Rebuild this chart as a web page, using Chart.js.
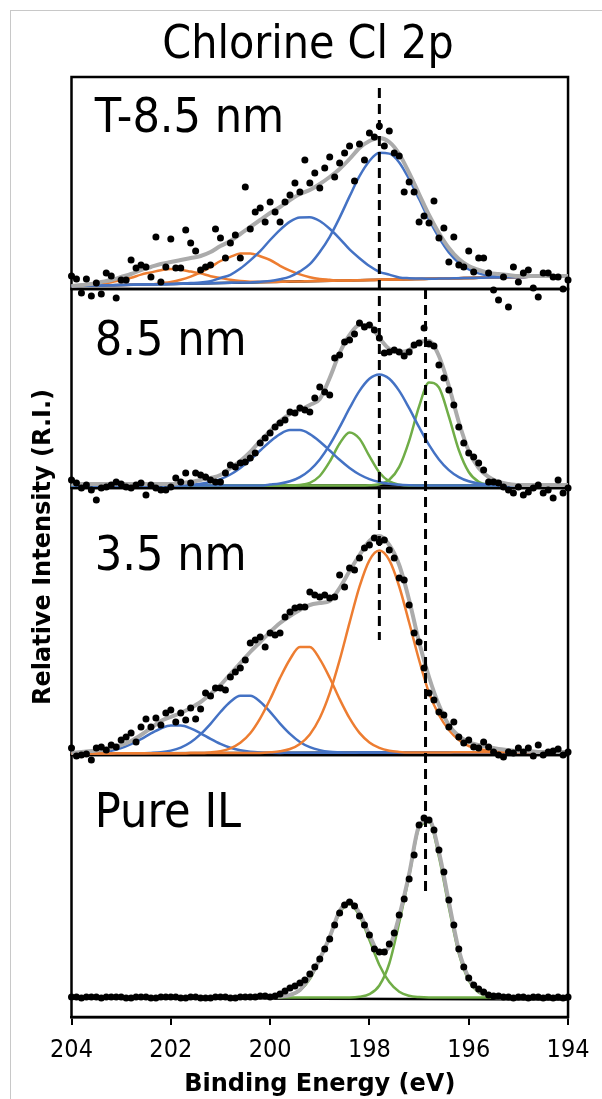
<!DOCTYPE html>
<html><head><meta charset="utf-8">
<script src="https://cdn.jsdelivr.net/npm/chart.js@4/dist/chart.umd.min.js"></script>
<style>
html,body{margin:0;padding:0;background:#fff;}
#wrap{position:relative;width:602px;height:1099px;overflow:hidden;}
#frame{position:absolute;left:10px;top:10px;width:700px;height:1200px;border-left:1px solid #c8c8c8;border-top:1px solid #c8c8c8;}
canvas{position:absolute;left:0;top:0;}
</style></head><body>
<div id="wrap"><div id="frame"></div><canvas id="c" width="602" height="1099"></canvas></div>
<script>
// ---- x values (binding energy, eV) ----
const energyData = [204.0,203.9,203.8,203.7,203.6,203.5,203.4,203.3,203.2,203.1,
203.0,202.9,202.8,202.7,202.6,202.5,202.4,202.3,202.2,202.1,
202.0,201.9,201.8,201.7,201.6,201.5,201.4,201.3,201.2,201.1,
201.0,200.9,200.8,200.7,200.6,200.5,200.4,200.3,200.2,200.1,
200.0,199.9,199.8,199.7,199.6,199.5,199.4,199.3,199.2,199.1,
199.0,198.9,198.8,198.7,198.6,198.5,198.4,198.3,198.2,198.1,
198.0,197.9,197.8,197.7,197.6,197.5,197.4,197.3,197.2,197.1,
197.0,196.9,196.8,196.7,196.6,196.5,196.4,196.3,196.2,196.1,
196.0,195.9,195.8,195.7,195.6,195.5,195.4,195.3,195.2,195.1,
195.0,194.9,194.8,194.7,194.6,194.5,194.4,194.3,194.2,194.1,194.0];
const energyFit = [204.0,203.8,203.6,203.4,203.2,203.0,202.8,202.6,202.4,202.2,
202.0,201.8,201.6,201.4,201.2,201.0,200.8,200.6,200.4,200.2,
200.0,199.8,199.6,199.4,199.2,199.0,198.8,198.6,198.4,198.2,
198.0,197.8,197.6,197.4,197.2,197.0,196.8,196.6,196.4,196.2,
196.0,195.8,195.6,195.4,195.2,195.0,194.8,194.6,194.4,194.2,194.0];
const energyBg = [204, 194];
const xTicks = [204, 202, 200, 198, 196, 194];

// ---- Panel 1: T-8.5 nm ----
const t85Dots = [13,10,-4,10,-7,6,-5,16,13,-9, 9,9,29,21,24,22,12,52,7,22, 50,21,21,59,46,38,19,22,24,60,
51,31,46,54,31,102,60,77,81,67, 87,77,67,87,94,106,97,129,106,116, 101,121,132,112,126,136,143,108,145,129,
156,152,163,143,158,136,133,97,107,97, 67,73,66,88,51,61,27,52,24,22, 38,17,31,31,16,-1,-11,12,-18,22,
7,16,19,1,-8,16,16,12,12,0, 9];
const t85Envelope = [3,4,5,7,9,12,15,19,22,25, 27,29,31,33,37,43,48,55,62,69, 76,82,89,95,99,105,112,120,130,141,
148,151,147,135,116,95,74,56,41,30, 23,19,16,15,14,13,13,13,13,13, 13];
const t85BlueMain = [3.0,3.2,3.4,3.6,3.8,4.0,4.2,4.4,4.6,4.8,5.0,5.2,5.4,5.6,5.8,6.0,6.2,6.4,6.6,
7.3,8,9.7,12.4,17.6,24.8,37,52.2,71.4,92.6,112.8,128,136.2,135.4,126.6,109.8,90,69.2,51.4,36.6,26.3,19.6,15.6,13.5,12.6,12.2,12,12.2,12.4,12.6,12.8,13];
const t85BlueSecond = [3.0,3.2,3.4,3.6,3.8,4.0,4.2,4.4,4.6,4.8,5.0,5.2,
5.9,6.6,7.8,11,14.2,20.4,28.6,37.8,49,59.2,67.4,71.6,71.8,68,60.2,50.4,39.6,30.8,23,17.2,14.4,11.6,10.8,10.5,
10.2,10.4,10.6,10.8,11.0,11.2,11.4,11.6,11.8,12.0,12.2,12.4,12.6,12.8,13.0];
const t85OrangeA = [3.0,3.2,3.4,3.6,3.8,4.0,4.2,4.4,4.6,
5.8,7,9.2,12.4,16.6,21.8,28,32.2,35.4,35.6,32.8,29,23.2,18.4,14.6,11.8,10,9.2,
8.4,8.6,8.8,9.0,9.2,9.4,9.6,9.8,10.0,10.2,10.4,10.6,10.8,11.0,11.2,11.4,11.6,11.8,12.0,12.2,12.4,12.6,12.8,13.0];
const t85OrangeB = [3,3.5,4.1,5.1,6.8,9,11.2,14.4,16.6,18.8, 20,19.2,17.4,15.6,12.8,11,9.2,7.9,7.3,7.1,
7.0,7.2,7.4,7.6,7.8,8.0,8.2,8.4,8.6,8.8,9.0,9.2,9.4,9.6,9.8,10.0,10.2,10.4,10.6,10.8,11.0,11.2,11.4,11.6,11.8,12.0,12.2,12.4,12.6,12.8,13.0];
const t85Background = [3, 13];

// ---- Panel 2: 8.5 nm ----
const n85Dots = [8,5,0,3,-2,-12,0,1,3,6, 4,1,0,3,5,-7,3,0,-2,-2, 1,10,6,15,5,15,13,11,8,6,
6,15,23,21,25,26,30,35,45,50, 55,61,65,68,76,75,80,78,76,90, 101,96,93,130,133,146,148,154,165,161,
163,158,150,135,136,138,136,132,136,143, 145,160,144,142,123,110,98,83,61,45, 35,31,25,18,6,6,5,1,-2,-5,
1,-7,-4,0,3,-5,-2,-10,8,-5, 0];
const n85Envelope = [4,4,4,4,4,4,4,4,4,4, 4,5,6,8,10,13,20,27,36,47, 57,67,74,78,83,89,110,135,153,163,
163,150,139,136,138,146,147,132,102,66, 37,20,11,6,4,3,3,3,3,3, 3];
const n85BlueA = [2.5,2.5,2.5,2.5,2.5,2.5,2.5,2.5,2.5,2.5,2.5,
2.8,3.3,4.2,6,8.9,13.5,20,28.2,37.5,46.5,53.9,57.9,57.9,53.9,46.5,37.5,28.2,20,13.5,8.9,6,4.2,3.3,2.8,
2.5,2.5,2.5,2.5,2.5,2.5,2.5,2.5,2.5,2.5,2.5,2.5,2.5,2.5,2.5,2.5];
const n85BlueB = [2.5,2.5,2.5,2.5,2.5,2.5,2.5,2.5,2.5,2.5,2.5,2.5,2.5,2.5,2.5,2.5,2.5,2.5,2.5,2.5,
3.4,4.5,6.7,10.9,17.9,28.6,43.1,60.8,79.8,97.1,109.2,113.5,109.2,97.1,79.8,60.8,43.1,28.6,17.9,10.9,6.7,4.5,3.4,
2.5,2.5,2.5,2.5,2.5,2.5,2.5,2.5];
const n85GreenA = [2.5,2.5,2.5,2.5,2.5,2.5,2.5,2.5,2.5,2.5,2.5,2.5,2.5,2.5,2.5,2.5,2.5,2.5,2.5,2.5,2.5,2.5,2.5,
3,5.2,12,26.3,44.5,55.5,49.2,31.8,15.5,6.6,3.4,
2.5,2.5,2.5,2.5,2.5,2.5,2.5,2.5,2.5,2.5,2.5,2.5,2.5,2.5,2.5,2.5,2.5];
const n85GreenB = [2.5,2.5,2.5,2.5,2.5,2.5,2.5,2.5,2.5,2.5,2.5,2.5,2.5,2.5,2.5,2.5,2.5,2.5,2.5,2.5,2.5,2.5,2.5,2.5,2.5,2.5,2.5,2.5,2.5,2.5,
2.7,3.8,8.2,21.1,47.2,81.5,105.5,100.5,71.5,38,16,6.2,3.2,
2.5,2.5,2.5,2.5,2.5,2.5,2.5,2.5];
const n85Background = [2.5, 2.5];

// ---- Panel 3: 3.5 nm ----
const n35Dots = [7,-1,0,1,-5,7,8,5,10,8, 15,18,22,13,28,36,28,37,30,42, 45,33,42,35,47,36,46,62,59,67,
67,65,78,83,87,95,112,115,118,108, 122,120,122,138,143,147,148,148,163,160, 158,160,157,158,180,168,187,185,197,207,
210,217,213,215,205,197,177,175,150,122, 113,87,62,55,43,40,28,33,18,12, 15,8,7,13,8,3,0,-2,3,2,
7,3,7,-1,10,0,3,4,6,0, 3];
const n35Envelope = [2,3,4,5,7,10,14,20,27,34, 38,42,47,53,61,70,81,92,103,113, 123,132,139,145,150,152,154,167,184,200,
214,219,210,190,155,113,78,50,30,19, 13,10,8,6,5,4,4,3,3,3, 3];
const n35OrangeMain = [1.5,1.5,1.6,1.6,1.6,1.7,1.7,1.7,1.7,1.8,1.8,1.8,1.9,1.9,1.9,2.0,2.0,2.0,2.0,2.1,
2.7,3.7,6,11.1,20.6,37,61.9,94.8,132.3,168.4,194.7,204.4,194.8,168.5,132.5,95,62.1,40,25,15,9,6,4.5,3.8,3.4,
2.9,2.9,2.9,3.0,3.0,3.0];
const n35OrangeSecond = [1.5,1.5,1.6,1.6,1.6,1.7,1.7,1.7,1.7,1.8,1.8,1.8,1.9,1.9,
2.6,3.9,6.7,12.2,21.7,36.6,55.7,77.1,95.8,108,108,95.9,77.3,55.9,36.8,22.1,12.6,7.1,4.3,3.1,
2.5,2.6,2.6,2.6,2.6,2.7,2.7,2.7,2.8,2.8,2.8,2.8,2.9,2.9,2.9,3.0,3.0];
const n35BlueA = [1.5,1.5,1.6,1.6,1.6,1.7,1.7,1.7,
2.1,2.8,4.4,7.4,12.7,20.8,31.2,43,53.2,59.2,59.2,53.3,43.1,31.4,21.1,13,7.8,4.9,3.3,2.7,
2.3,2.4,2.4,2.4,2.5,2.5,2.5,2.6,2.6,2.6,2.6,2.7,2.7,2.7,2.8,2.8,2.8,2.8,2.9,2.9,2.9,3.0,3.0];
const n35BlueB = [1.5,1.7,2.1,2.8,4.3,6.9,10.9,15.9,21.6,26.5, 29.4,29.4,26.6,21.7,16.1,11.1,7.2,4.8,3.3,2.6, 2.3,
2.1,2.2,2.2,2.2,2.3,2.3,2.3,2.3,2.4,2.4,2.4,2.5,2.5,2.5,2.6,2.6,2.6,2.6,2.7,2.7,2.7,2.8,2.8,2.8,2.8,2.9,2.9,2.9,3.0,3.0];
const n35Background = [1.5, 3];

// ---- Panel 4: Pure IL ----
const pureDots = [20,20,19,20,20,20,19,20,20,20, 20,19,19,20,20,20,19,19,20,20, 20,20,19,19,20,20,19,19,19,20,
20,20,19,19,20,20,20,20,21,21, 20,21,23,26,29,31,34,37,43,50, 58,68,78,92,104,112,115,111,101,92,
82,68,65,65,73,84,102,118,138,162, 192,199,197,187,167,145,117,92,68,50, 39,32,28,25,22,21,21,20,20,19,
20,20,19,20,20,19,20,19,20,19, 20];
const pureEnvelope = [19.5,19.5,19.5,19.5,19.5,19.5,19.5,19.5,19.5,19.5,19.5,19.5,19.5,19.5,19.5,19.5,19.5,19.5,19.5,19.5,19.5,
20.5,22,27,40,58,80,106,115,104,82,65,70,101,143,191,197,165,115,67,39,26,21.5,
19.5,19.5,19.5,19.5,19.5,19.5,19.5,19.5];
const pureGreenSmall = [19.5,19.5,19.5,19.5,19.5,19.5,19.5,19.5,19.5,19.5,19.5,19.5,19.5,19.5,19.5,19.5,19.5,19.5,19.5,19.5,19.5,
20.1,21.7,26.5,37.9,57.8,80,104,113,101,77,52,34.9,25.2,21.2,19.9,
19.5,19.5,19.5,19.5,19.5,19.5,19.5,19.5,19.5,19.5,19.5,19.5,19.5,19.5,19.5];
const pureGreenMain = [19.5,19.5,19.5,19.5,19.5,19.5,19.5,19.5,19.5,19.5,19.5,19.5,19.5,19.5,19.5,19.5,19.5,19.5,19.5,19.5,19.5,19.5,19.5,19.5,19.5,19.5,19.5,19.5,19.5,
20.2,22.8,31.5,53.5,94.5,141,189,195,160,109.5,63.5,36.5,24.5,20.7,
19.5,19.5,19.5,19.5,19.5,19.5,19.5,19.5];
const pureBackground = [19, 17.5];

// ---- panel ranges, labels, reference lines ----
const panelAxes = ['p1', 'p2', 'p3', 'p4'];
const panelLabels = ['T-8.5 nm', '8.5 nm', '3.5 nm', 'Pure IL'];
const panelRanges = [212, 199, 267, 262];
const labelEnergy = 203.53;
const labelLevels = [157, 133, 185, 190];
const markerEnergy = [197.8, 196.87];
const markerStartAxis = ['p1', 'p2'];
const markerStartLevel = [201, 199];
const markerEndAxis = ['p3', 'p4'];
const markerEndLevel = [115, 120];

const BLUE = '#4472C4', ORANGE = '#ED7D31', GREEN = '#70AD47', GRAY = '#ABABAB';
const REG = "'DejaVu Sans Condensed', 'Noto Sans', sans-serif";
const BOLD = "'DejaVu Sans', sans-serif";

const panels = [
  {axis: 'p1', dots: t85Dots, env: t85Envelope, bg: t85Background,
   comps: [[t85BlueMain, BLUE], [t85BlueSecond, BLUE], [t85OrangeA, ORANGE], [t85OrangeB, ORANGE]]},
  {axis: 'p2', dots: n85Dots, env: n85Envelope, bg: n85Background,
   comps: [[n85BlueA, BLUE], [n85BlueB, BLUE], [n85GreenA, GREEN], [n85GreenB, GREEN]]},
  {axis: 'p3', dots: n35Dots, env: n35Envelope, bg: n35Background,
   comps: [[n35OrangeMain, ORANGE], [n35OrangeSecond, ORANGE], [n35BlueA, BLUE], [n35BlueB, BLUE]]},
  {axis: 'p4', dots: pureDots, env: pureEnvelope, bg: pureBackground,
   comps: [[pureGreenSmall, GREEN], [pureGreenMain, GREEN]]}
];

function xy(xs, ys) { return ys.map((y, i) => ({x: xs[i], y: y})); }

const datasets = [];
panels.forEach((p) => {
  datasets.push({data: xy(energyData, p.dots), yAxisID: p.axis, showLine: false,
    pointRadius: 3.5, pointBackgroundColor: '#000', pointBorderWidth: 0, order: 0, clip: false});
  datasets.push({data: xy(energyFit, p.env), yAxisID: p.axis, showLine: true, borderColor: GRAY,
    borderWidth: 4, pointRadius: 0, cubicInterpolationMode: 'monotone', order: 1, clip: false});
  p.comps.forEach((c) => {
    datasets.push({data: xy(energyFit, c[0]), yAxisID: p.axis, showLine: true, borderColor: c[1],
      borderWidth: 2.5, pointRadius: 0, cubicInterpolationMode: 'monotone', order: 2, clip: false});
  });
  datasets.push({data: xy(energyBg, p.bg), yAxisID: p.axis, showLine: true, borderColor: '#000',
    borderWidth: 2.5, pointRadius: 0, order: 3, clip: false});
});

const scales = {
  x: {type: 'linear', position: 'bottom', min: 194, max: 204, reverse: true,
    afterBuildTicks: (s) => { s.ticks = xTicks.map(v => ({value: v})); },
    ticks: {color: '#000', font: {family: REG, size: 25, lineHeight: 1}, padding: 12.5, maxRotation: 0, autoSkip: false},
    grid: {display: true, drawOnChartArea: false, drawTicks: true, tickLength: 8, color: '#000', lineWidth: 2},
    border: {display: true, color: '#000', width: 2.5},
    title: {display: true, text: 'Binding Energy (eV)', color: '#000',
      font: {family: BOLD, size: 24, weight: 'bold', lineHeight: 1}, padding: {top: -2, bottom: 0}}},
  yRI: {type: 'linear', position: 'left', display: true,
    ticks: {display: false}, grid: {display: false, drawTicks: false}, border: {display: false},
    title: {display: true, text: 'Relative Intensity (R.I.)', color: '#000',
      font: {family: BOLD, size: 24, weight: 'bold'}, padding: {top: -17.4, bottom: 13.1}}}
};
// bottom panel first; later-defined stacked axes are placed above
for (let k = panelAxes.length - 1; k >= 0; k--) {
  scales[panelAxes[k]] = {type: 'linear', position: 'left', stack: 'panels', stackWeight: panelRanges[k],
    min: 0, max: panelRanges[k], display: false};
}

const decor = {
  id: 'decor',
  beforeDatasetsDraw(chart) {
    const ctx = chart.ctx, a = chart.chartArea;
    ctx.save();
    ctx.strokeStyle = '#000';
    ctx.lineWidth = 2.5;
    panelAxes.forEach((id) => {
      const s = chart.scales[id];
      ctx.strokeRect(a.left, s.top, a.right - a.left, s.bottom - s.top);
    });
    ctx.restore();
  },
  afterDatasetsDraw(chart) {
    const ctx = chart.ctx, xs = chart.scales.x;
    ctx.save();
    ctx.strokeStyle = '#000';
    ctx.lineWidth = 3;
    ctx.setLineDash([10, 6]);
    markerEnergy.forEach((e, k) => {
      const x = xs.getPixelForValue(e);
      ctx.beginPath();
      ctx.moveTo(x, chart.scales[markerStartAxis[k]].getPixelForValue(markerStartLevel[k]));
      ctx.lineTo(x, chart.scales[markerEndAxis[k]].getPixelForValue(markerEndLevel[k]));
      ctx.stroke();
    });
    ctx.setLineDash([]);
    ctx.fillStyle = '#000';
    ctx.font = '48px ' + REG;
    ctx.textAlign = 'left';
    ctx.textBaseline = 'alphabetic';
    panelLabels.forEach((t, k) => {
      ctx.fillText(t, xs.getPixelForValue(labelEnergy), chart.scales[panelAxes[k]].getPixelForValue(labelLevels[k]));
    });
    ctx.restore();
  }
};

Chart.defaults.color = '#000';
new Chart(document.getElementById('c'), {
  type: 'scatter',
  data: {datasets: datasets},
  options: {
    responsive: false, animation: false, events: [],
    layout: {padding: {top: 8, left: 47, right: 33, bottom: 2}},
    plugins: {
      legend: {display: false}, tooltip: {enabled: false},
      title: {display: true, text: 'Chlorine Cl 2p', color: '#000', font: {family: REG, size: 46, weight: 'normal'},
        padding: {top: 10, bottom: 3.8}}
    },
    scales: scales
  },
  plugins: [decor]
});
</script></body></html>
